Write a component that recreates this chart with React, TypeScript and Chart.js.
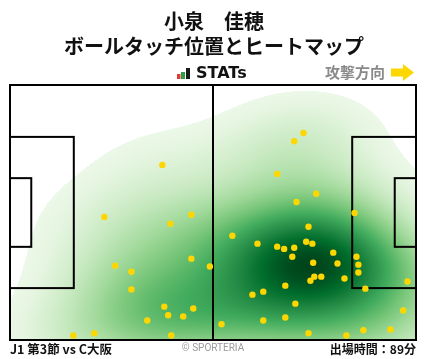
import React, { useEffect, useRef } from "react";
import { Chart, registerables } from "chart.js";

Chart.register(...registerables);

// ---- Data ----
const PITCH_LENGTH = 105;
const PITCH_WIDTH = 68;
const PENALTY_DEPTH = 16.5;
const PENALTY_WIDTH = 40.32;
const GOAL_AREA_DEPTH = 5.5;
const GOAL_AREA_WIDTH = 18.32;

// ball touch positions (metres, x from own goal line, y from top touchline)
const touchX = [
  39.4, 24.4, 41.5, 46.9, 46.9, 27.2, 31.4, 31.4, 51.7, 39.9, 40.9, 44.8, 47.4, 35.5,
  16.4, 21.8, 41.7, 75.9, 73.5, 69.1, 79.2, 74.1, 89.1, 57.5, 64.0, 69.1, 70.9, 73.5,
  76.6, 78.2, 77.2, 73.0, 78.4, 83.6, 84.7, 89.6, 90.1, 90.1, 78.7, 80.5, 77.7, 86.5,
  71.2, 65.5, 62.7, 91.9, 102.8, 73.8, 54.7, 65.5, 71.2, 101.7, 77.2, 87.0, 91.4, 98.4,
];
const touchY = [
  21.3, 35.2, 37.0, 34.6, 46.3, 48.2, 49.8, 54.5, 48.4, 59.1, 61.4, 61.7, 59.6, 62.8,
  66.8, 66.2, 66.8, 12.8, 15.0, 23.7, 29.0, 31.2, 34.1, 40.2, 42.3, 43.1, 43.7, 43.4,
  41.8, 42.3, 37.8, 45.8, 47.4, 44.7, 47.6, 45.8, 47.9, 50.0, 51.1, 51.1, 52.2, 51.6,
  53.5, 55.1, 55.9, 54.3, 52.4, 58.3, 63.8, 62.8, 62.0, 60.1, 66.2, 66.8, 65.4, 65.2,
];

const TITLE = "小泉　佳穂";
const SUBTITLE = "ボールタッチ位置とヒートマップ";
const LOGO_TEXT = "STATs";
const DIRECTION_LABEL = "攻撃方向";
const MATCH_LABEL = "J1 第3節 vs C大阪";
const CREDIT = "© SPORTERIA";
const MINUTES_LABEL = "出場時間：89分";

// Greens colour map
const GREENS: [number, number, number][] = [
  [247, 252, 245],
  [229, 245, 224],
  [199, 233, 192],
  [161, 217, 155],
  [116, 196, 118],
  [65, 171, 93],
  [35, 139, 69],
  [0, 109, 44],
  [0, 68, 27],
];
const KDE_THRESHOLD = 0.04;
const BW_ADJUST = 1.25;
const COLOR_GAMMA = 0.8;

function greens(t: number): [number, number, number] {
  const v = Math.max(0, Math.min(1, t)) * (GREENS.length - 1);
  const i = Math.min(GREENS.length - 2, Math.floor(v));
  const f = v - i;
  const a = GREENS[i];
  const b = GREENS[i + 1];
  return [a[0] + (b[0] - a[0]) * f, a[1] + (b[1] - a[1]) * f, a[2] + (b[2] - a[2]) * f];
}

const pitchPlugin = {
  id: "pitch",
  beforeDatasetsDraw(chart: any) {
    const ctx: CanvasRenderingContext2D = chart.ctx;
    const xs = chart.scales.x;
    const ys = chart.scales.y;
    const area = chart.chartArea;
    const w = Math.round(area.right - area.left);
    const h = Math.round(area.bottom - area.top);

    // KDE (Scott's rule, full covariance)
    const n = touchX.length;
    let mx = 0, my = 0;
    for (let i = 0; i < n; i++) { mx += touchX[i]; my += touchY[i]; }
    mx /= n; my /= n;
    let sxx = 0, syy = 0, sxy = 0;
    for (let i = 0; i < n; i++) {
      const dx = touchX[i] - mx, dy = touchY[i] - my;
      sxx += dx * dx; syy += dy * dy; sxy += dx * dy;
    }
    sxx /= n - 1; syy /= n - 1; sxy /= n - 1;
    const fac = Math.pow(n, -1 / 6) * BW_ADJUST;
    const a = sxx * fac * fac, d = syy * fac * fac, b = sxy * fac * fac;
    const det = a * d - b * b;
    const ia = d / det, id = a / det, ib = -b / det;

    const dens = new Float32Array(w * h);
    let maxD = 0;
    for (let py = 0; py < h; py++) {
      const yv = ys.getValueForPixel(area.top + py + 0.5);
      for (let px = 0; px < w; px++) {
        const xv = xs.getValueForPixel(area.left + px + 0.5);
        let s = 0;
        for (let i = 0; i < n; i++) {
          const dx = xv - touchX[i], dy = yv - touchY[i];
          s += Math.exp(-0.5 * (ia * dx * dx + 2 * ib * dx * dy + id * dy * dy));
        }
        dens[py * w + px] = s;
        if (s > maxD) maxD = s;
      }
    }
    const off = document.createElement("canvas");
    off.width = w; off.height = h;
    const octx = off.getContext("2d")!;
    const img = octx.createImageData(w, h);
    for (let k = 0; k < w * h; k++) {
      const t = dens[k] / maxD;
      if (t < KDE_THRESHOLD) continue;
      const c = greens(Math.pow(t, COLOR_GAMMA));
      img.data[k * 4] = c[0];
      img.data[k * 4 + 1] = c[1];
      img.data[k * 4 + 2] = c[2];
      img.data[k * 4 + 3] = 255;
    }
    octx.putImageData(img, 0, 0);
    ctx.save();
    ctx.drawImage(off, area.left, area.top);

    // pitch markings
    ctx.strokeStyle = "#000";
    ctx.lineWidth = 2;
    const X = (v: number) => xs.getPixelForValue(v);
    const Y = (v: number) => ys.getPixelForValue(v);
    const rect = (x0: number, y0: number, x1: number, y1: number) => {
      ctx.strokeRect(X(x0), Y(y0), X(x1) - X(x0), Y(y1) - Y(y0));
    };
    rect(0, 0, PITCH_LENGTH, PITCH_WIDTH);
    ctx.beginPath();
    ctx.moveTo(X(PITCH_LENGTH / 2), Y(0));
    ctx.lineTo(X(PITCH_LENGTH / 2), Y(PITCH_WIDTH));
    ctx.stroke();
    const pTop = (PITCH_WIDTH - PENALTY_WIDTH) / 2;
    const gTop = (PITCH_WIDTH - GOAL_AREA_WIDTH) / 2;
    rect(0, pTop, PENALTY_DEPTH, pTop + PENALTY_WIDTH);
    rect(PITCH_LENGTH - PENALTY_DEPTH, pTop, PITCH_LENGTH, pTop + PENALTY_WIDTH);
    rect(0, gTop, GOAL_AREA_DEPTH, gTop + GOAL_AREA_WIDTH);
    rect(PITCH_LENGTH - GOAL_AREA_DEPTH, gTop, PITCH_LENGTH, gTop + GOAL_AREA_WIDTH);
    ctx.restore();
  },
  afterDraw(chart: any) {
    const ctx: CanvasRenderingContext2D = chart.ctx;
    ctx.save();
    const jp = '"Noto Sans CJK JP", "Noto Sans", sans-serif';
    ctx.fillStyle = "#111";
    ctx.textAlign = "center";
    ctx.textBaseline = "middle";
    ctx.font = `bold 20px ${jp}`;
    ctx.fillText(TITLE, 214, 21);
    ctx.fillText(SUBTITLE, 214, 46);

    // logo
    ctx.fillStyle = "#e53935";
    ctx.fillRect(177, 74, 3.5, 5);
    ctx.fillStyle = "#2e9e48";
    ctx.fillRect(181, 72, 4, 7);
    ctx.fillStyle = "#1a1a1a";
    ctx.fillRect(186, 68, 4, 11);
    ctx.fillStyle = "#111";
    ctx.font = 'bold 16px "DejaVu Sans", sans-serif';
    ctx.textAlign = "left";
    ctx.fillText(LOGO_TEXT, 196, 74);

    // attack direction
    ctx.fillStyle = "#8a8a8a";
    ctx.font = `bold 15px ${jp}`;
    ctx.textAlign = "right";
    ctx.fillText(DIRECTION_LABEL, 385, 72);
    ctx.fillStyle = "#fdd800";
    ctx.beginPath();
    ctx.moveTo(391, 68.5);
    ctx.lineTo(403, 68.5);
    ctx.lineTo(403, 64);
    ctx.lineTo(414, 72.5);
    ctx.lineTo(403, 81);
    ctx.lineTo(403, 76.5);
    ctx.lineTo(391, 76.5);
    ctx.closePath();
    ctx.fill();

    // footer
    ctx.fillStyle = "#111";
    ctx.font = `bold 12.5px ${jp}`;
    ctx.textAlign = "left";
    ctx.fillText(MATCH_LABEL, 10, 349);
    ctx.font = `bold 12px ${jp}`;
    ctx.textAlign = "right";
    ctx.fillText(MINUTES_LABEL, 416, 349);
    ctx.fillStyle = "#9a9a9a";
    ctx.font = '10px "Roboto", "DejaVu Sans", sans-serif';
    ctx.textAlign = "center";
    ctx.fillText(CREDIT, 213, 348, 63);
    ctx.restore();
  },
};

export default function App() {
  const ref = useRef<HTMLCanvasElement | null>(null);
  useEffect(() => {
    if (!ref.current) return;
    const chart = new Chart(ref.current, {
      type: "scatter",
      data: {
        datasets: [
          {
            data: touchX.map((x, i) => ({ x, y: touchY[i] })),
            backgroundColor: "#ffd700",
            borderWidth: 0,
            pointRadius: 3.2,
            pointHoverRadius: 3.2,
          },
        ],
      },
      options: {
        responsive: false,
        animation: false,
        devicePixelRatio: 1,
        events: [],
        layout: { padding: { left: 10, right: 12, top: 85, bottom: 19 } },
        scales: {
          x: { type: "linear", min: 0, max: PITCH_LENGTH, display: false },
          y: { type: "linear", min: 0, max: PITCH_WIDTH, reverse: true, display: false },
        },
        plugins: { legend: { display: false }, tooltip: { enabled: false } },
      },
      plugins: [pitchPlugin],
    });
    return () => chart.destroy();
  }, []);
  return (
    <div style={{ position: "fixed", left: 0, top: 0, width: 428, height: 359, background: "#fff" }}>
      <canvas ref={ref} width={428} height={359} style={{ width: 428, height: 359 }} />
    </div>
  );
}
